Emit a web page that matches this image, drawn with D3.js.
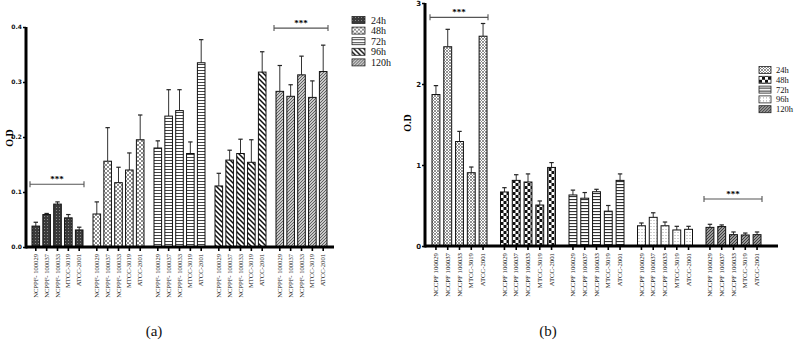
<!DOCTYPE html>
<html><head><meta charset="utf-8">
<script src="https://cdn.jsdelivr.net/npm/d3@7"></script>
<style>body{margin:0;background:#fff}svg{display:block}</style>
</head><body>
<svg id="c" width="795" height="342"></svg>
<script>
// ---------- data ----------
const times = ["24h", "48h", "72h", "96h", "120h"];
const strainsA = ["NCPPF- 100029", "NCPPF- 100037", "NCPPF- 100033", "MTCC-3019", "ATCC-2001"];
const strainsB = ["NCCPF 100029", "NCCPF 100037", "NCCPF 100033", "MTCC-3019", "ATCC-2001"];
const ticksA = [0.0, 0.1, 0.2, 0.3, 0.4];
const ticksB = [0, 1, 2, 3];

// panel (a) mean O.D and SD
const a24 = [0.038, 0.059, 0.078, 0.053, 0.031];
const a24sd = [0.007, 0.002, 0.004, 0.006, 0.005];
const a48 = [0.060, 0.156, 0.117, 0.140, 0.195];
const a48sd = [0.022, 0.061, 0.028, 0.031, 0.045];
const a72 = [0.180, 0.238, 0.248, 0.170, 0.335];
const a72sd = [0.013, 0.048, 0.038, 0.021, 0.042];
const a96 = [0.111, 0.158, 0.170, 0.154, 0.318];
const a96sd = [0.023, 0.018, 0.026, 0.041, 0.037];
const a120 = [0.283, 0.274, 0.313, 0.272, 0.319];
const a120sd = [0.047, 0.021, 0.034, 0.030, 0.048];

// panel (b) mean O.D and SD
const b24 = [1.87, 2.46, 1.29, 0.905, 2.59];
const b24sd = [0.11, 0.215, 0.125, 0.07, 0.157];
const b48 = [0.667, 0.81, 0.79, 0.506, 0.97];
const b48sd = [0.053, 0.07, 0.10, 0.05, 0.06];
const b72 = [0.63, 0.59, 0.67, 0.43, 0.81];
const b72sd = [0.06, 0.07, 0.03, 0.07, 0.08];
const b96 = [0.25, 0.354, 0.25, 0.198, 0.206];
const b96sd = [0.034, 0.056, 0.046, 0.045, 0.037];
const b120 = [0.23, 0.24, 0.14, 0.136, 0.14];
const b120sd = [0.038, 0.02, 0.033, 0.024, 0.033];

const svg = d3.select("#c");
const defs = svg.append("defs");

// ---------- patterns ----------
function pat(id, w, h, bg, draw) {
  const p = defs.append("pattern").attr("id", id).attr("patternUnits", "userSpaceOnUse")
    .attr("width", w).attr("height", h);
  p.append("rect").attr("width", w).attr("height", h).attr("fill", bg);
  draw(p);
}
pat("pA24", 3, 3, "#3a3a3a", p => {
  p.append("rect").attr("x", 0).attr("y", 0).attr("width", 1).attr("height", 1).attr("fill", "#8a8a8a");
});
pat("pA48", 4, 4, "#fff", p => {
  p.append("rect").attr("x", 0).attr("y", 0).attr("width", 2).attr("height", 2).attr("fill", "#8c8c8c");
  p.append("rect").attr("x", 2).attr("y", 2).attr("width", 2).attr("height", 2).attr("fill", "#8c8c8c");
});
pat("pA72", 4, 3, "#fff", p => {
  p.append("rect").attr("x", 0).attr("y", 1).attr("width", 4).attr("height", 1).attr("fill", "#444");
});
pat("pA96", 5, 5, "#fff", p => {
  p.append("path").attr("d", "M-1,-1L6,6M-1,4L1,6M4,-1L6,1").attr("stroke", "#111").attr("stroke-width", 1.5);
});
pat("pA120", 3, 3, "#c8c8c8", p => {
  p.append("path").attr("d", "M0,3L3,0M-1,1L1,-1M2,4L4,2").attr("stroke", "#555").attr("stroke-width", 0.9);
});
pat("pB24", 3, 3, "#fff", p => {
  p.append("path").attr("d", "M0,3L3,0M0,0L3,3").attr("stroke", "#777").attr("stroke-width", 0.8);
});
pat("pB48", 6, 6, "#fff", p => {
  p.append("rect").attr("x", 0).attr("y", 0).attr("width", 3).attr("height", 3).attr("fill", "#111");
  p.append("rect").attr("x", 3).attr("y", 3).attr("width", 3).attr("height", 3).attr("fill", "#111");
});
pat("pB72", 4, 3, "#fff", p => {
  p.append("rect").attr("x", 0).attr("y", 1).attr("width", 4).attr("height", 1.1).attr("fill", "#333");
});
pat("pB96", 3, 3, "#fff", p => {
  p.append("rect").attr("x", 1).attr("y", 1).attr("width", 0.9).attr("height", 0.9).attr("fill", "#888");
});
pat("pB120", 3, 3, "#999", p => {
  p.append("path").attr("d", "M0,3L3,0M-1,1L1,-1M2,4L4,2").attr("stroke", "#333").attr("stroke-width", 0.9);
});

const serif = "'Liberation Serif','Times New Roman',serif";

function panel(cfg) {
  const g = svg.append("g");
  const y = d3.scaleLinear().domain(cfg.ydom).range(cfg.yrange);
  const xg = d3.scaleBand().domain(times).range(cfg.xrange).paddingInner(cfg.gpad).paddingOuter(0);
  const xs = d3.scaleBand().domain(cfg.strains).range([0, xg.bandwidth()]).paddingInner(cfg.spad).paddingOuter(0);
  const base = y(0);

  // bars
  cfg.series.forEach((s, i) => {
    const gg = g.append("g").attr("transform", `translate(${xg(times[i])},0)`);
    const rows = s.mean.map((m, k) => ({ strain: cfg.strains[k], m, sd: s.sd[k] }));
    gg.selectAll("line.e").data(rows).join("line")
      .attr("x1", d => xs(d.strain) + xs.bandwidth() / 2).attr("x2", d => xs(d.strain) + xs.bandwidth() / 2)
      .attr("y1", d => y(d.m)).attr("y2", d => y(d.m + d.sd))
      .attr("stroke", "#333").attr("stroke-width", 1);
    gg.selectAll("line.c").data(rows).join("line")
      .attr("x1", d => xs(d.strain) + xs.bandwidth() / 2 - 2.2).attr("x2", d => xs(d.strain) + xs.bandwidth() / 2 + 2.2)
      .attr("y1", d => y(d.m + d.sd)).attr("y2", d => y(d.m + d.sd))
      .attr("stroke", "#222").attr("stroke-width", 1.2);
    gg.selectAll("rect").data(rows).join("rect")
      .attr("x", d => xs(d.strain)).attr("width", xs.bandwidth())
      .attr("y", d => y(d.m)).attr("height", d => base - y(d.m))
      .attr("fill", `url(#${cfg.pats[i]})`).attr("stroke", "#111").attr("stroke-width", 1);
    const ax = d3.axisBottom(xs).tickSize(4).tickPadding(2).tickFormat(d => d);
    const axg = gg.append("g").attr("transform", `translate(0,${base})`).call(ax);
    axg.select(".domain").remove();
    axg.selectAll(".tick line").attr("stroke", "#000").attr("stroke-width", 1.6);
    axg.selectAll(".tick text")
      .attr("font-family", serif).attr("font-size", cfg.xfs).attr("fill", "#222")
      .attr("text-anchor", "end").attr("dy", "0.32em")
      .attr("transform", "translate(0,4) rotate(-90)").attr("x", -3).attr("y", 0);
  });

  g.append("line").attr("x1", cfg.yaxisX).attr("x2", cfg.xend).attr("y1", base).attr("y2", base)
    .attr("stroke", "#000").attr("stroke-width", 3);
  const yax = d3.axisLeft(y).tickValues(cfg.ticks).tickSize(3).tickPadding(1).tickFormat(cfg.tf);
  const yg = g.append("g").attr("transform", `translate(${cfg.yaxisX},0)`).call(yax);
  yg.select(".domain").attr("stroke", "#000").attr("stroke-width", 3).attr("d", `M0,${cfg.yrange[1]}V${base + 1.5}`);
  yg.selectAll(".tick line").attr("stroke", "#000").attr("stroke-width", 1.5);
  yg.selectAll(".tick text").attr("font-family", "'DejaVu Sans',sans-serif").attr("font-weight", "bold")
    .attr("font-size", cfg.yfs).attr("fill", "#111");

  g.append("text").attr("transform", `translate(${cfg.ylabX},${cfg.ylabY}) rotate(-90)`)
    .attr("text-anchor", "middle").attr("font-family", serif).attr("font-weight", "bold")
    .attr("font-size", 10).text("O.D");

  cfg.sig.forEach(sg => {
    const i = times.indexOf(sg.t);
    const x1 = xg(times[i]) - 2, x2 = xg(times[i]) + xg.bandwidth() + 1;
    const yy = y(sg.v);
    g.append("path").attr("d", `M${x1},${yy - 3}V${yy + 3}M${x1},${yy}H${x2}M${x2},${yy - 3}V${yy + 3}`)
      .attr("stroke", "#555").attr("stroke-width", 1.1).attr("fill", "none");
    g.append("text").attr("x", (x1 + x2) / 2).attr("y", yy - 2).attr("text-anchor", "middle")
      .attr("font-family", serif).attr("font-weight", "bold").attr("font-size", 9).text("***");
  });

  const lg = g.append("g").attr("transform", `translate(${cfg.leg[0]},${cfg.leg[1]})`);
  times.forEach((t, i) => {
    const r = lg.append("g").attr("transform", `translate(0,${i * cfg.legStep})`);
    r.append("rect").attr("x", 0).attr("y", -3.5).attr("width", cfg.legW).attr("height", 7)
      .attr("fill", `url(#${cfg.pats[i]})`).attr("stroke", "#222").attr("stroke-width", 0.8);
    r.append("text").attr("x", cfg.legW + cfg.legGap).attr("y", 0).attr("dy", "0.35em")
      .attr("font-family", serif).attr("font-size", cfg.legFs).attr("fill", "#111").text(t);
  });

  svg.append("text").attr("x", cfg.cap[0]).attr("y", cfg.cap[1]).attr("text-anchor", "middle")
    .attr("font-family", serif).attr("font-size", 15).attr("fill", "#111").text(cfg.capText);
}

panel({
  strains: strainsA, ydom: [0, 0.4], yrange: [247, 27], xrange: [32, 327], gpad: 0.164, spad: 0.3,
  yaxisX: 26, xend: 334, ticks: ticksA, tf: d3.format(".1f"), yfs: 6, xfs: 6.6,
  series: [{ mean: a24, sd: a24sd }, { mean: a48, sd: a48sd }, { mean: a72, sd: a72sd }, { mean: a96, sd: a96sd }, { mean: a120, sd: a120sd }],
  pats: ["pA24", "pA48", "pA72", "pA96", "pA120"],
  ylabX: 13, ylabY: 138,
  sig: [{ t: "24h", v: 0.114 }, { t: "120h", v: 0.398 }],
  leg: [352, 20], legStep: 10.6, legW: 13, legGap: 6, legFs: 10,
  cap: [154, 336], capText: "(a)"
});

panel({
  strains: strainsB, ydom: [0, 3], yrange: [246, 3], xrange: [432, 761], gpad: 0.197, spad: 0.33,
  yaxisX: 425, xend: 778, ticks: ticksB, tf: d3.format("d"), yfs: 7, xfs: 6.8,
  series: [{ mean: b24, sd: b24sd }, { mean: b48, sd: b48sd }, { mean: b72, sd: b72sd }, { mean: b96, sd: b96sd }, { mean: b120, sd: b120sd }],
  pats: ["pB24", "pB48", "pB72", "pB96", "pB120"],
  ylabX: 411, ylabY: 123,
  sig: [{ t: "24h", v: 2.823 }, { t: "120h", v: 0.58 }],
  leg: [759, 70], legStep: 9.8, legW: 12, legGap: 5, legFs: 8.5,
  cap: [548, 336], capText: "(b)"
});
</script>
</body></html>
